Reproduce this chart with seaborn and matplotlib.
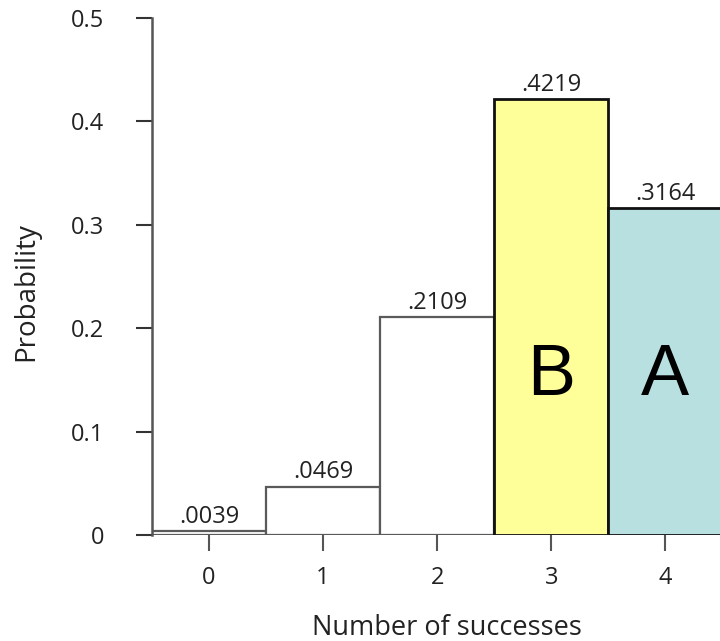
import matplotlib
matplotlib.use("Agg")
import matplotlib.pyplot as plt
import seaborn as sns
import pandas as pd

successes = ["0", "1", "2", "3", "4"]
probabilities = [0.0039, 0.0469, 0.2109, 0.4219, 0.3164]
value_labels = [".0039", ".0469", ".2109", ".4219", ".3164"]
fill_colors = ["#FFFFFF", "#FFFFFF", "#FFFFFF", "#FFFF99", "#B9E0E1"]
edge_colors = ["#5a5a5a", "#5a5a5a", "#5a5a5a", "#111111", "#111111"]
region_letters = {"3": "B", "4": "A"}
y_ticks = [0, 0.1, 0.2, 0.3, 0.4, 0.5]
y_tick_labels = ["0", "0.1", "0.2", "0.3", "0.4", "0.5"]

sns.set_style("white")
plt.rcParams["font.family"] = ["Open Sans", "DejaVu Sans"]

df = pd.DataFrame({"successes": successes, "probability": probabilities})

fig = plt.figure(figsize=(7.2, 6.41), dpi=100)
ax = fig.add_axes([152 / 720, (641 - 535) / 641, 1 - 152 / 720, 517 / 641])

sns.barplot(data=df, x="successes", y="probability", hue="successes",
            palette=fill_colors, width=1.0, legend=False, ax=ax, saturation=1)

for patch, ec, lab in zip(ax.patches, edge_colors, value_labels):
    patch.set_edgecolor(ec)
    patch.set_linewidth(2.0 if ec == "#111111" else 1.6)
    x = patch.get_x() + patch.get_width() / 2
    h = patch.get_height()
    ax.annotate(lab, (x, h), xytext=(0, 1.5), textcoords="offset points",
                ha="center", va="bottom", fontsize=17, color="#222222")

for i, s in enumerate(successes):
    if s in region_letters:
        ax.text(i, 0.153, region_letters[s], ha="center", va="center",
                fontsize=52, family="Liberation Sans", color="black")

ax.set_xlim(-0.5, 4.48)
ax.set_ylim(0, 0.5)
ax.set_yticks(y_ticks)
ax.set_yticklabels(y_tick_labels)

for side in ["top", "right", "bottom"]:
    ax.spines[side].set_visible(False)
ax.spines["left"].set_color("#555555")
ax.spines["left"].set_linewidth(1.8)

ax.tick_params(axis="y", direction="out", length=11.5, width=1.5, color="#333333",
               pad=23, labelsize=17, labelcolor="#222222", left=True)
ax.tick_params(axis="x", direction="out", length=11.5, width=1.5, color="#555555",
               pad=11, labelsize=17, labelcolor="#222222", bottom=True)

ax.set_xlabel("Number of successes", fontsize=19.5, color="#222222")
ax.set_ylabel("Probability", fontsize=20, color="#222222")
ax.xaxis.set_label_coords(0.52, -0.152)
ax.yaxis.set_label_coords(-0.197, 0.47)

fig.savefig("out.png", dpi=100)
